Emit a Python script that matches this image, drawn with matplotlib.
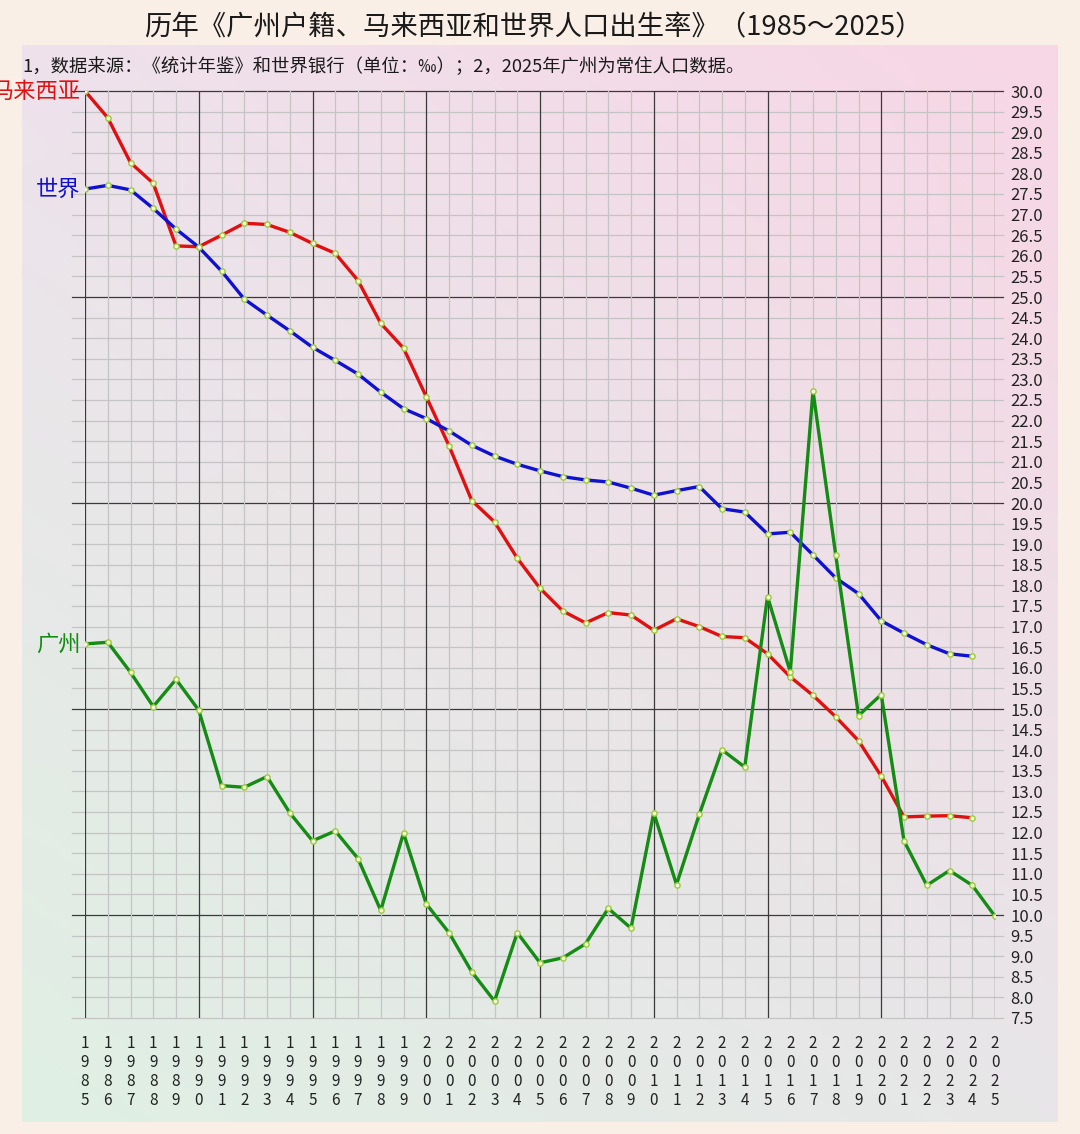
import numpy as np
import matplotlib.pyplot as plt
from matplotlib.colors import to_rgb
import matplotlib.transforms as mtransforms

plt.rcParams['font.family'] = ['Noto Sans CJK SC', 'DejaVu Sans']

# 出生率（‰）
years = list(range(1985, 2026))
malaysia = [30.0, 29.35, 28.26, 27.76, 26.24, 26.22, 26.5, 26.79, 26.76, 26.57,
            26.3, 26.06, 25.4, 24.36, 23.76, 22.58, 21.39, 20.06, 19.54, 18.66,
            17.93, 17.38, 17.09, 17.34, 17.28, 16.91, 17.19, 17.0, 16.76, 16.73,
            16.34, 15.78, 15.33, 14.81, 14.23, 13.37, 12.38, 12.4, 12.41, 12.36]
world = [27.62, 27.71, 27.6, 27.15, 26.65, 26.21, 25.63, 24.95, 24.56, 24.18,
         23.78, 23.46, 23.13, 22.69, 22.29, 22.05, 21.75, 21.4, 21.14, 20.94,
         20.78, 20.64, 20.56, 20.51, 20.36, 20.19, 20.3, 20.4, 19.86, 19.78,
         19.25, 19.29, 18.74, 18.18, 17.8, 17.14, 16.84, 16.56, 16.34, 16.28]
guangzhou = [16.58, 16.62, 15.89, 15.06, 15.72, 14.97, 13.14, 13.1, 13.36, 12.48,
             11.8, 12.04, 11.37, 10.11, 11.99, 10.27, 9.57, 8.62, 7.91, 9.57,
             8.84, 8.96, 9.3, 10.16, 9.68, 12.48, 10.74, 12.44, 14.01, 13.59,
             17.73, 15.9, 22.72, 18.73, 14.84, 15.35, 11.8, 10.72, 11.08, 10.72,
             9.97]
yticks = np.arange(7.5, 30.01, 0.5)

red = '#e01010'
blue = '#1010d0'
green = '#148c14'

fig = plt.figure(figsize=(10.8, 11.34), dpi=100)
fig.patch.set_facecolor('#f9efe6')

# background panel with soft gradient
bg = fig.add_axes([22 / 1080, 1 - 1122 / 1134, 1036 / 1080, 1077 / 1134])
tl, tr = np.array(to_rgb('#eee2ec')), np.array(to_rgb('#f8d6e5'))
bl, br = np.array(to_rgb('#dff0e3')), np.array(to_rgb('#e7e6e8'))
u = np.linspace(0, 1, 200)[None, :, None]
v = np.linspace(0, 1, 200)[:, None, None]
img = (1 - v) * ((1 - u) * tl + u * tr) + v * ((1 - u) * bl + u * br)
bg.imshow(img, aspect='auto', extent=[0, 1, 0, 1], interpolation='bilinear')
bg.axis('off')

ax = fig.add_axes([85 / 1080, 1 - 1018 / 1134, 910 / 1080, 927 / 1134])
ax.set_facecolor('none')
ax.set_xlim(1985, 2025)
ax.set_ylim(7.5, 30)
for s in ax.spines.values():
    s.set_visible(False)

# grid
trans = mtransforms.blended_transform_factory(ax.transAxes, ax.transData)
for y in yticks:
    major = abs(y % 5) < 1e-9
    ax.plot([-0.0143, 1.0088], [y, y], transform=trans, clip_on=False,
            color='#3a3a3a' if major else '#c4c4c4', lw=0.9, zorder=1)
for yr in years:
    major = yr % 5 == 0
    ax.axvline(yr, color='#3a3a3a' if major else '#c4c4c4', lw=0.9, zorder=1)

mk = dict(marker='o', markersize=3.8, markerfacecolor='#f4f4e0',
          markeredgecolor='#9acd32', markeredgewidth=1.0)
ax.plot(years[:len(malaysia)], malaysia, color=red, lw=2.4, zorder=3, **mk)
ax.plot(years[:len(world)], world, color=blue, lw=2.4, zorder=3, **mk)
ax.plot(years, guangzhou, color=green, lw=2.4, zorder=4, **mk)

for name, vals, c in [('马来西亚', malaysia, red), ('世界', world, blue),
                      ('广州', guangzhou, green)]:
    ax.annotate(name, xy=(years[0], vals[0]), xytext=(-3, 0),
                textcoords='offset points', ha='right', va='center',
                color=c, fontsize=16, annotation_clip=False)

ax.yaxis.tick_right()
ax.set_yticks(yticks)
ax.set_yticklabels([f'{y:.1f}' for y in yticks], fontsize=12, color='#222222')
ax.tick_params(axis='y', length=0, pad=11)
ax.set_xticks(years)
ax.set_xticklabels(['\n'.join(str(y)) for y in years], fontsize=11,
                   color='#222222', linespacing=1.15)
ax.tick_params(axis='x', length=0, pad=12)

fig.text(0.4935, 1 - 28 / 1134, '历年《广州户籍、马来西亚和世界人口出生率》（1985～2025）',
         ha='center', va='center', fontsize=19.7, color='#1a1a1a')
fig.text(22 / 1080, 1 - 67 / 1134,
         '1，数据来源：《统计年鉴》和世界银行（单位：‰）；2，2025年广州为常住人口数据。',
         ha='left', va='center', fontsize=13.2, color='#1a1a1a')

fig.savefig('out.png', dpi=100)
